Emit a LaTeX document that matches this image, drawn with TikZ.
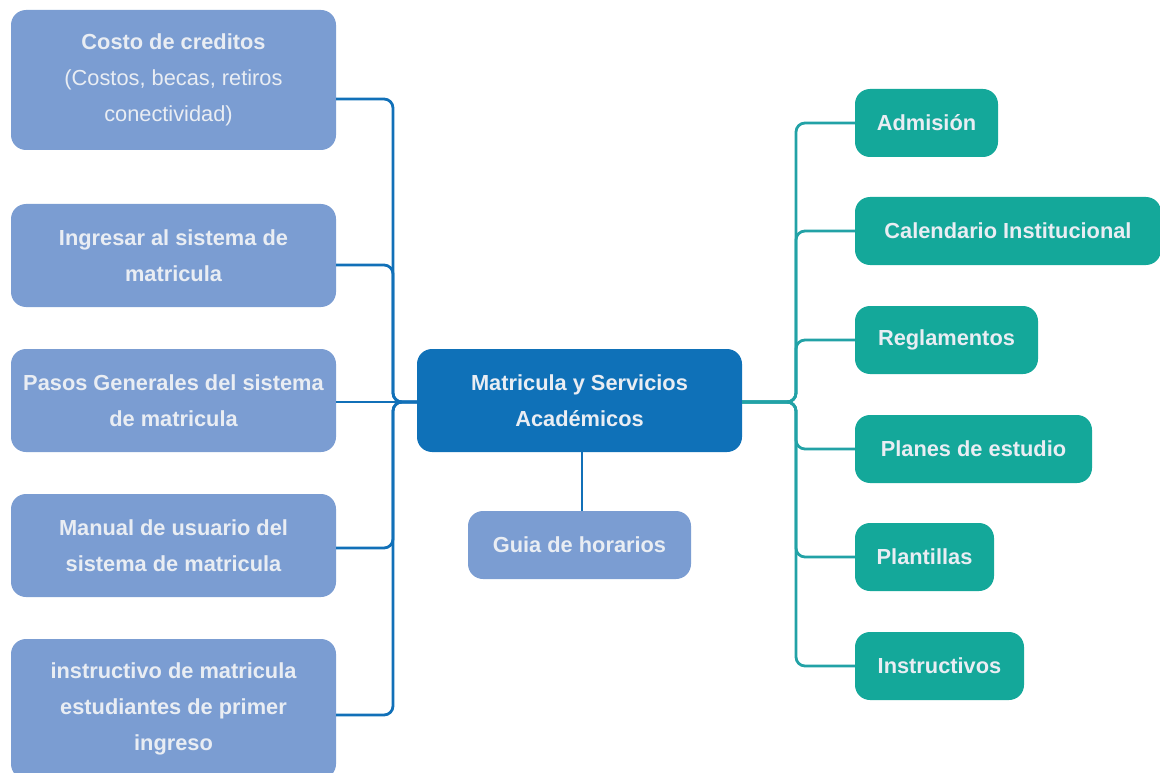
\documentclass[tikz,border=0pt]{standalone}
\usepackage{fontspec}
\setmainfont{Liberation Sans}
\definecolor{lboxc}{HTML}{7B9DD2}
\definecolor{mainc}{HTML}{0F71B8}
\definecolor{rboxc}{HTML}{14A89A}
\definecolor{txtc}{HTML}{E9EDF3}
\definecolor{llinec}{HTML}{1170B8}
\definecolor{rlinec}{HTML}{22A2A6}
\begin{document}
\begin{tikzpicture}[x=1pt,y=-1pt,
  box/.style={rounded corners=15pt, inner sep=0pt, align=center, text=txtc,
    font=\fontsize{21.8}{36}\selectfont\bfseries},
  lbox/.style={box, fill=lboxc, minimum width=325pt},
  rbox/.style={box, fill=rboxc, minimum height=68pt},
  mbox/.style={box, fill=mainc},
  lline/.style={draw=llinec, line width=2.8pt, rounded corners=9pt},
  rline/.style={draw=rlinec, line width=2.8pt, rounded corners=9pt}]
\useasboundingbox (0,0) rectangle (1160,773);
\clip (0,0) rectangle (1160,773);
% left children
\node[lbox, minimum height=140pt] (c1) at (173.5,80) {Costo de creditos\\{\mdseries (Costos, becas, retiros\hspace*{16pt}}\\{\mdseries conectividad)\hspace*{10pt}}};
\node[lbox, minimum height=103pt] (c2) at (173.5,255.5) {Ingresar al sistema de\\matricula};
\node[lbox, minimum height=103pt] (c3) at (173.5,400.5) {Pasos Generales del sistema\\de matricula};
\node[lbox, minimum height=103pt] (c4) at (173.5,545.5) {Manual de usuario del\\sistema de matricula};
\node[lbox, minimum height=140pt] (c5) at (173.5,709) {instructivo de matricula\\estudiantes de primer\\ingreso};
% central
\node[mbox, minimum width=325pt, minimum height=103pt] (m) at (579.5,400.5) {Matricula y Servicios\\Académicos};
\node[lbox, minimum width=223pt, minimum height=68pt] (g) at (579.5,545) {Guia de horarios};
% right children
\node[rbox, minimum width=143pt] (r1) at (926.5,123) {Admisión};
\node[rbox, minimum width=306pt] (r2) at (1008,231) {Calendario Institucional};
\node[rbox, minimum width=183pt] (r3) at (946.5,340) {Reglamentos};
\node[rbox, minimum width=237pt] (r4) at (973.5,449) {Planes de estudio};
\node[rbox, minimum width=139pt] (r5) at (924.5,557) {Plantillas};
\node[rbox, minimum width=169pt] (r6) at (939.5,666) {Instructivos};
% helper coordinates
\coordinate (ly1) at (0,99);
\coordinate (ly2) at (0,265);
\coordinate (ly4) at (0,548);
\coordinate (ly5) at (0,715);
\coordinate (mid) at (0,402);
\coordinate (lt) at (393,0);
\coordinate (rt) at (796,0);
% left connectors
\draw[lline] (c1.east |- ly1) -- (lt |- ly1) -- (lt |- mid) -- (m.west |- mid);
\draw[lline] (c2.east |- ly2) -- (lt |- ly2) -- (lt |- mid) -- (m.west |- mid);
\draw[lline] (c3.east |- mid) -- (m.west |- mid);
\draw[lline] (c4.east |- ly4) -- (lt |- ly4) -- (lt |- mid) -- (m.west |- mid);
\draw[lline] (c5.east |- ly5) -- (lt |- ly5) -- (lt |- mid) -- (m.west |- mid);
% bottom
\draw[llinec, line width=2.8pt] ([xshift=2.5pt]m.south) -- ([xshift=2.5pt]g.north);
% right connectors
\foreach \r in {r1,r2,r3,r4,r5,r6}{
  \draw[rline] (m.east |- mid) -- (rt |- mid) -- (rt |- \r.west) -- (\r.west);
}
\end{tikzpicture}
\end{document}
